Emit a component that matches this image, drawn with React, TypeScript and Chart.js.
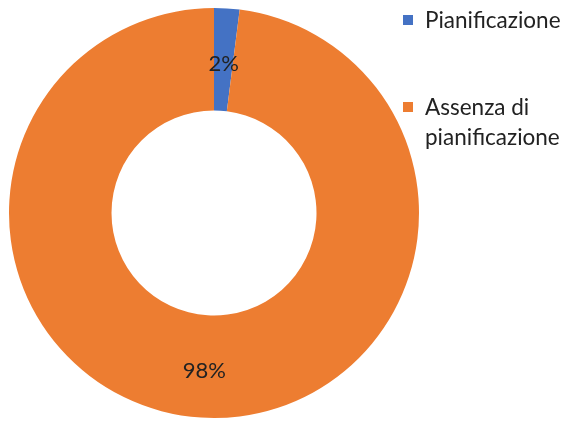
import React, { useEffect, useRef } from "react";
import { Chart, registerables } from "chart.js";

Chart.register(...registerables);

const categories = ["Pianificazione", ["Assenza di", "pianificazione"]];
const values = [2, 98];
const percentLabels = ["2%", "98%"];
const colors = ["#4472C4", "#ED7D31"];

const FONT = "Lato, 'Open Sans', sans-serif";
const TEXT = "#222222";

const labelPlugin = {
  id: "sliceLabels",
  afterDatasetsDraw(chart: any) {
    const ctx = chart.ctx;
    const meta = chart.getDatasetMeta(0);
    ctx.save();
    ctx.font = `22px ${FONT}`;
    ctx.fillStyle = TEXT;
    ctx.textAlign = "center";
    ctx.textBaseline = "middle";
    meta.data.forEach((arc: any, i: number) => {
      const p = arc.tooltipPosition();
      ctx.fillText(percentLabels[i], p.x, p.y + 4);
    });
    ctx.restore();
  },
};

const legendPlugin = {
  id: "sideLegend",
  afterDraw(chart: any) {
    const ctx = chart.ctx;
    const area = chart.chartArea;
    const x0 = area.right - 16;
    const tops = [20, 107];
    ctx.save();
    ctx.font = `22.5px ${FONT}`;
    ctx.textBaseline = "alphabetic";
    categories.forEach((c, i) => {
      const lines = Array.isArray(c) ? c : [c];
      const cy = tops[i];
      ctx.fillStyle = colors[i];
      ctx.fillRect(x0, cy - 5, 10, 10);
      ctx.fillStyle = TEXT;
      lines.forEach((ln, j) => {
        ctx.fillText(ln, x0 + 22, cy + 8 + j * 30);
      });
    });
    ctx.restore();
  },
};

export default function App() {
  const ref = useRef<HTMLCanvasElement>(null);
  useEffect(() => {
    if (!ref.current) return;
    const chart = new Chart(ref.current, {
      type: "doughnut",
      data: {
        labels: categories.map((c) => (Array.isArray(c) ? c.join(" ") : c)),
        datasets: [
          {
            data: values,
            backgroundColor: colors,
            borderWidth: 0,
          },
        ],
      },
      options: {
        animation: false,
        responsive: false,
        cutout: "50%",
        layout: { padding: { left: 9, top: 8, right: 150, bottom: 3 } },
        plugins: {
          legend: { display: false },
          tooltip: { enabled: false },
        },
      },
      plugins: [labelPlugin, legendPlugin],
    });
    return () => chart.destroy();
  }, []);
  return (
    <div style={{ position: "fixed", left: 0, top: 0, width: 569, height: 421, background: "#fff" }}>
      <canvas ref={ref} width={569} height={421} style={{ display: "block" }} />
    </div>
  );
}
